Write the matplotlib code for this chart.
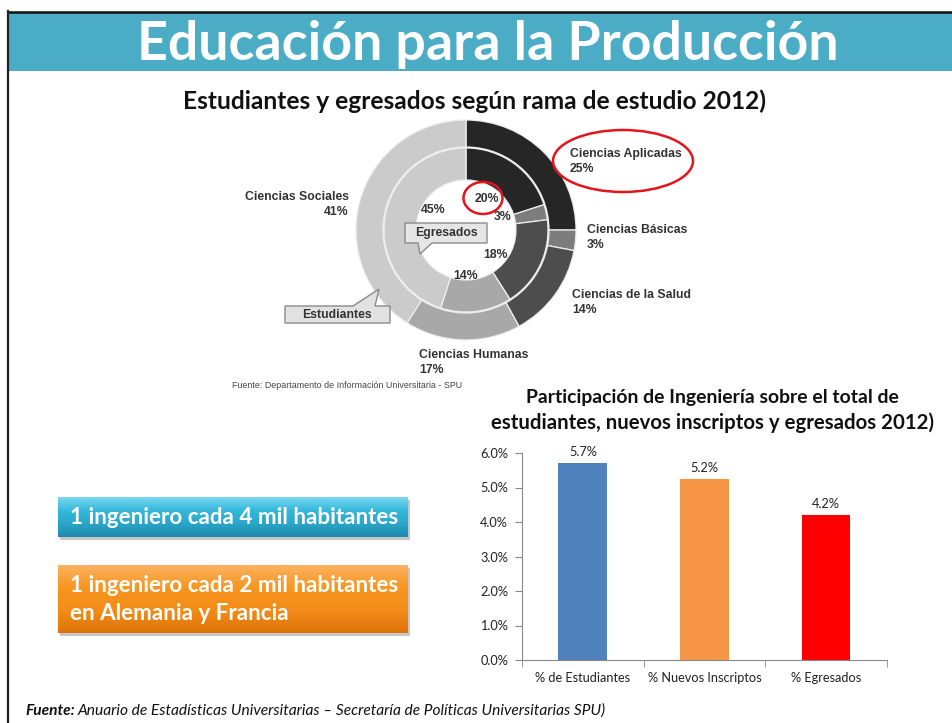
import numpy as np
import matplotlib
matplotlib.use("Agg")
import matplotlib.pyplot as plt
from matplotlib.colors import to_rgb
from matplotlib.patches import Rectangle, Ellipse, Polygon
from matplotlib.ticker import FuncFormatter

W, H = 953, 723

# datos: estudiantes y egresados por rama (2012)
ramas = ["Ciencias Aplicadas", "Ciencias Básicas", "Ciencias de la Salud",
         "Ciencias Humanas", "Ciencias Sociales"]
estudiantes = [25, 3, 14, 17, 41]
egresados = [20, 3, 18, 14, 45]
grises = ["#262626", "#7d7d7d", "#4d4d4d", "#a8a8a8", "#cbcbcb"]

# participación de ingeniería
bar_cats = ["% de Estudiantes", "% Nuevos Inscriptos", "% Egresados"]
bar_vals = [5.7, 5.24, 4.2]
bar_colors = ["#4f81bd", "#f79646", "#ff0000"]

CAL = "Lato"
ARIAL = "Liberation Sans"
LBL = 8.8

fig = plt.figure(figsize=(W / 100, H / 100), dpi=100)
fig.patch.set_facecolor("white")


def px_axes(x0, y0, x1, y1):
    return fig.add_axes([x0 / W, 1 - y1 / H, (x1 - x0) / W, (y1 - y0) / H])


#1. donut (outer = estudiantes, inner = egresados)
cx, cy = 466, 230
dax = px_axes(cx - 120, cy - 120, cx + 120, cy + 120)
dax.pie(estudiantes, radius=110, startangle=90, counterclock=False, colors=grises,
        wedgeprops=dict(width=27, edgecolor="#eeeeee", linewidth=0.9))
dax.pie(egresados, radius=82, startangle=90, counterclock=False, colors=grises,
        wedgeprops=dict(width=32, edgecolor="#eeeeee", linewidth=0.9))
dax.set_xlim(-120, 120); dax.set_ylim(-120, 120)
dax.axis("off")

#2. bar chart
bax = px_axes(522, 453, 887, 660)
bars = bax.bar(range(len(bar_vals)), bar_vals, width=0.4, color=bar_colors)
bax.set_xlim(-0.5, 2.5); bax.set_ylim(0, 6)
bax.set_yticks(range(7))
bax.yaxis.set_major_formatter(FuncFormatter(lambda v, _: f"{v:.1f}%"))
bax.set_xticks(range(len(bar_cats)), bar_cats)
bax.set_xticks([-0.5, 0.5, 1.5, 2.5], minor=True)
bax.tick_params(axis="x", which="major", length=0, pad=9, labelsize=9.2)
bax.tick_params(axis="x", which="minor", length=5, color="#888888")
bax.tick_params(axis="y", length=5, color="#888888", pad=5, labelsize=9.2)
for lab in bax.get_xticklabels() + bax.get_yticklabels():
    lab.set_fontfamily(CAL); lab.set_color("#222222")
for s in ("top", "right"):
    bax.spines[s].set_visible(False)
for s in ("left", "bottom"):
    bax.spines[s].set_color("#888888")
bax.bar_label(bars, labels=[f"{v:.1f}%" for v in bar_vals], padding=3.5,
              fontsize=9.2, fontfamily=CAL, color="#222222")

#3. overlay in pixel coordinates
ov = fig.add_axes([0, 0, 1, 1])
ov.axis("off")


def fit(t, width):
    r = fig.canvas.get_renderer()
    w = t.get_window_extent(r).width
    t.set_fontsize(t.get_fontsize() * width / w)


def grad_box(x0, y0, x1, y1, stops):
    ov.add_patch(Rectangle((x0 + 2, y0 + 3), x1 - x0, y1 - y0, color="black",
                           alpha=0.22, lw=0, zorder=1))
    cols = np.array([to_rgb(c) for c in stops])
    pos = np.linspace(0, 1, len(stops))
    t = np.linspace(0, 1, 80)
    img = np.stack([np.interp(t, pos, cols[:, k]) for k in range(3)], axis=1)[:, None, :]
    ov.imshow(img, extent=(x0, x1, y1, y0), aspect="auto", interpolation="bilinear", zorder=2)


# title bar + slide frame
ov.add_patch(Rectangle((9, 12), W - 9, 59, color="#4bacc6", lw=0))
ov.plot([9, W], [11.5, 11.5], color="#111111", lw=1.8)
ov.plot([8.5, 8.5], [11, H], color="#222222", lw=1.6)
t_title = ov.text(488, 60, "Educación para la Producción", color="white", fontsize=36,
                  fontweight="bold", fontfamily=CAL, ha="center", va="baseline")

t_sub = ov.text(475, 101, "Estudiantes y egresados según rama de estudio 2012)", fontsize=14,
                fontweight="bold", fontfamily=CAL, ha="center", va="center", color="#111111")

# donut labels
out_pos = [(570, "left"), (587, "left"), (572, "left"), (419, "left"), (349, "right")]
out_y = [154, 230, 295, 355, 197]
for name, pct, (x, ha), y in zip(ramas, estudiantes, out_pos, out_y):
    ov.text(x, y, name, fontsize=LBL, fontweight="bold", fontfamily=ARIAL, ha=ha,
            va="center", color="#333333")
    ov.text(x, y + 15, f"{pct}%", fontsize=LBL, fontweight="bold", fontfamily=ARIAL, ha=ha,
            va="center", color="#333333")
in_xy = [(487, 199), (503, 217), (496, 255), (466, 276), (433, 210)]
for pct, (x, y) in zip(egresados, in_xy):
    ov.text(x, y, f"{pct}%", fontsize=LBL, fontweight="bold", fontfamily=ARIAL,
            ha="center", va="center", color="#333333")

# callouts
ov.add_patch(Polygon([(405, 223), (487, 223), (487, 243), (432, 243), (420, 254),
                      (418, 243), (405, 243)], closed=True, fc="#e6e6e6", ec="#8a8a8a", lw=1))
ov.text(446, 233, "Egresados", fontsize=LBL, fontweight="bold", fontfamily=ARIAL,
        ha="center", va="center", color="#333333")
ov.add_patch(Polygon([(285, 306), (353, 306), (379, 289), (375, 306), (390, 306),
                      (390, 323), (285, 323)], closed=True, fc="#e2e2e2", ec="#8a8a8a", lw=1))
ov.text(337, 315, "Estudiantes", fontsize=LBL, fontweight="bold", fontfamily=ARIAL,
        ha="center", va="center", color="#333333")
t_src = ov.text(232, 386, "Fuente: Departamento de Información Universitaria - SPU", fontsize=6,
                fontfamily=ARIAL, ha="left", va="center", color="#444444")

# red highlights
ov.add_patch(Ellipse((623, 161), 140, 62, fill=False, ec="#e3141b", lw=1.8))
ov.add_patch(Ellipse((483, 198), 39, 32, fill=False, ec="#e3141b", lw=1.8))

# bar chart title
t_b1 = ov.text(712, 398, "Participación de Ingeniería sobre el total de", fontsize=12,
               fontweight="bold", fontfamily=CAL, ha="center", va="center", color="#111111")
t_b2 = ov.text(713, 423, "estudiantes, nuevos inscriptos y egresados 2012)", fontsize=12,
               fontweight="bold", fontfamily=CAL, ha="center", va="center", color="#111111")

# message boxes
grad_box(58, 497, 408, 537, ["#7ad8f0", "#35b8db", "#2aa6c9", "#1f8aab"])
t_box1 = ov.text(70, 518, "1 ingeniero cada 4 mil habitantes", fontsize=13.5, fontweight="bold",
                 fontfamily=CAL, color="white", ha="left", va="center", zorder=3)
grad_box(58, 565, 408, 633, ["#fcb262", "#f7961f", "#f38c18", "#dd7409"])
t_box2 = ov.text(70, 586, "1 ingeniero cada 2 mil habitantes", fontsize=13.5, fontweight="bold",
                 fontfamily=CAL, color="white", ha="left", va="center", zorder=3)
t_box3 = ov.text(70, 614, "en Alemania y Francia", fontsize=13.5, fontweight="bold",
                 fontfamily=CAL, color="white", ha="left", va="center", zorder=3)

# footer
t_f1 = ov.text(25, 711, "Fuente:", fontsize=10, fontweight="bold", fontstyle="italic",
               fontfamily=CAL, ha="left", va="center", color="#111111")
t_f2 = ov.text(80, 711, "Anuario de Estadísticas Universitarias – Secretaría de Políticas Universitarias SPU)",
               fontsize=10, fontstyle="italic", fontfamily=CAL, ha="left", va="center", color="#111111")
ov.set_xlim(0, W); ov.set_ylim(H, 0)

fit(t_title, 700)
fit(t_sub, 586)
fit(t_b1, 370)
fit(t_b2, 439)
fit(t_src, 231)
for t in (t_box1, t_box2):
    fit(t, 327)
t_box3.set_fontsize(t_box2.get_fontsize())

r = fig.canvas.get_renderer()
for _ in range(2):
    x_end = t_f1.get_window_extent(r).x1
    t_f2.set_x(x_end + 3)
    total = t_f2.get_window_extent(r).x1 - 25
    k = 582 / total
    t_f1.set_fontsize(t_f1.get_fontsize() * k)
    t_f2.set_fontsize(t_f2.get_fontsize() * k)
t_f2.set_x(t_f1.get_window_extent(r).x1 + 3)

ov.set_xlim(0, W); ov.set_ylim(H, 0)
fig.savefig("out.png", dpi=100)
